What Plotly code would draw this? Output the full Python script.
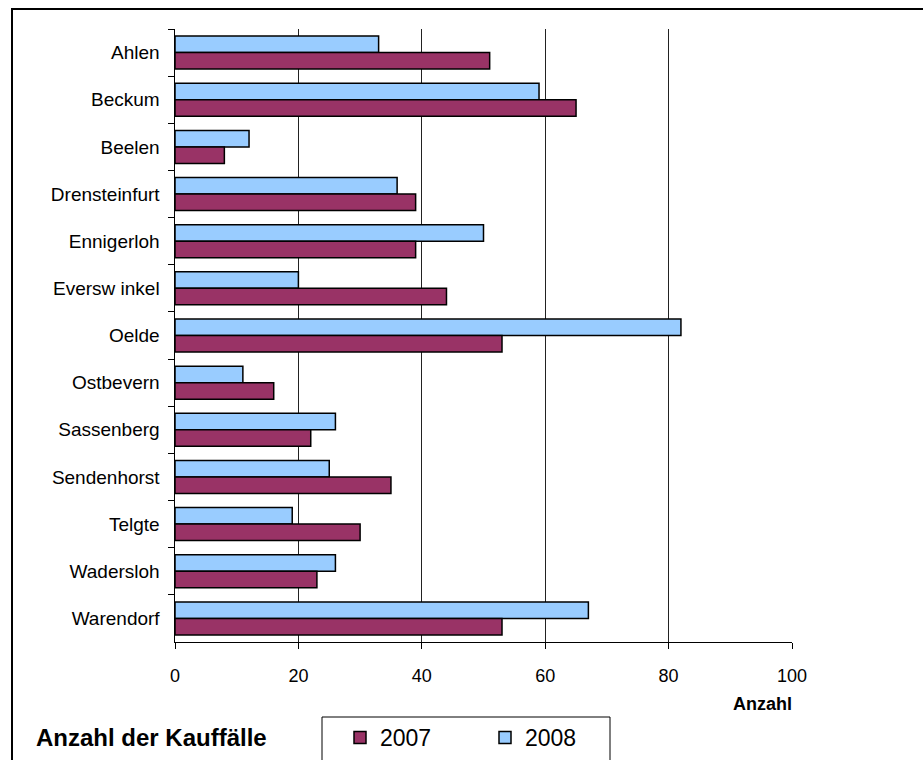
import plotly.graph_objects as go

categories = ["Ahlen", "Beckum", "Beelen", "Drensteinfurt", "Ennigerloh", "Eversw inkel",
              "Oelde", "Ostbevern", "Sassenberg", "Sendenhorst", "Telgte", "Wadersloh", "Warendorf"]
values_2007 = [51, 65, 8, 39, 39, 44, 53, 16, 22, 35, 30, 23, 53]
values_2008 = [33, 59, 12, 36, 50, 20, 82, 11, 26, 25, 19, 26, 67]
x_ticks = [0, 20, 40, 60, 80, 100]

W, H = 923, 760
L, R, T, B = 175, 792, 29, 642

def px(x):
    return (x - L) / (R - L)

def py(y):
    return (B - y) / (B - T)

FONT = "Liberation Sans, Arial, sans-serif"

fig = go.Figure()
fig.add_trace(go.Bar(y=categories, x=values_2008, orientation="h", name="2008",
                     marker=dict(color="#99CCFF", line=dict(color="black", width=1.5)),
                     legendrank=2))
fig.add_trace(go.Bar(y=categories, x=values_2007, orientation="h", name="2007",
                     marker=dict(color="#993366", line=dict(color="black", width=1.5)),
                     legendrank=1))

fig.update_layout(
    width=W, height=H,
    margin=dict(l=L, r=W - R, t=T, b=H - B, pad=0, autoexpand=False),
    paper_bgcolor="white", plot_bgcolor="white",
    barmode="group", bargap=0.30, bargroupgap=0,
    font=dict(family=FONT, size=18, color="black"),
    showlegend=True,
    legend=dict(orientation="h", x=px(340), y=py(716), xanchor="left", yanchor="top",
                font=dict(size=23, family=FONT), bgcolor="rgba(0,0,0,0)",
                entrywidth=100, itemwidth=30, tracegroupgap=0),
    xaxis=dict(range=[0, 100], tickvals=x_ticks, showgrid=True, gridcolor="#222222", gridwidth=1,
               showline=True, linecolor="black", linewidth=1, ticks="outside", ticklen=6,
               tickcolor="black", tickfont=dict(size=18, family=FONT), zeroline=False,
               ticklabelstandoff=11, fixedrange=True, automargin=False),
    yaxis=dict(autorange="reversed", showline=True, linecolor="black", linewidth=1,
               ticks="outside", ticklen=6, tickcolor="black", tickson="boundaries",
               tickfont=dict(size=19, family=FONT), showgrid=False, ticksuffix="  ",
               automargin=False, fixedrange=True),
)

# outer frame
fig.add_shape(type="rect", xref="paper", yref="paper",
              x0=px(12), x1=px(935), y0=py(780), y1=py(9),
              line=dict(color="black", width=2), fillcolor="rgba(0,0,0,0)", layer="below")
# legend box
fig.add_shape(type="rect", xref="paper", yref="paper",
              x0=px(322), x1=px(610), y0=py(780), y1=py(717),
              line=dict(color="black", width=1), fillcolor="rgba(0,0,0,0)")

fig.add_annotation(text="<b>Anzahl</b>", xref="paper", yref="paper", x=px(762), y=py(704),
                   showarrow=False, font=dict(size=18, family=FONT), xanchor="center", yanchor="middle")
fig.add_annotation(text="<b>Anzahl der Kauffälle</b>", xref="paper", yref="paper", x=px(34), y=py(737),
                   showarrow=False, font=dict(size=24, family=FONT), xanchor="left", yanchor="middle")

fig.write_html("out.html", post_script="document.body.style.margin='0';",
               config={"displayModeBar": False})
